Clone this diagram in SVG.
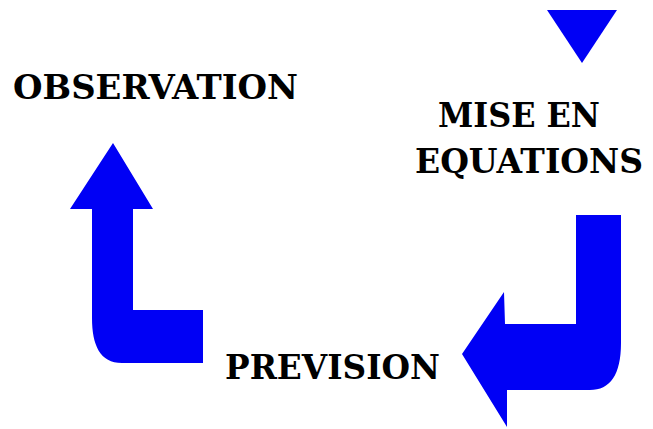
<svg xmlns="http://www.w3.org/2000/svg" width="653" height="429" viewBox="0 0 653 429">
<style>
.arrow{fill:#0000f5;stroke:none}
.lbl{font-family:"DejaVu Serif","Liberation Serif",serif;font-weight:bold;font-size:34px;fill:#000}
</style>
<rect width="653" height="429" fill="#fff"/>
<g id="connectors">
<path class="arrow" d="M547,10 L617,10 L582,63 Z"/>
<path class="arrow" d="M113,143 L153,209 L133,209 L133,310 L203,310 L203,363 L122,363 C100,363 92,345 92,318 L92,209 L70,209 Z"/>
<path class="arrow" d="M576,215 L621,215 L621,343 C621,375 610,390 590,390 L507,390 L507,427 L462,354 L504,292 L505,324 L576,324 Z"/>
</g>
<g id="observation"><text class="lbl" x="13" y="99" textLength="285" lengthAdjust="spacingAndGlyphs">OBSERVATION</text></g>
<g id="mise-en-equations">
<text class="lbl" x="438" y="127" textLength="162" lengthAdjust="spacingAndGlyphs">MISE EN</text>
<text class="lbl" x="415" y="173" textLength="228" lengthAdjust="spacingAndGlyphs">EQUATIONS</text>
</g>
<g id="prevision"><text class="lbl" x="225" y="379" textLength="215" lengthAdjust="spacingAndGlyphs">PREVISION</text></g>
</svg>
